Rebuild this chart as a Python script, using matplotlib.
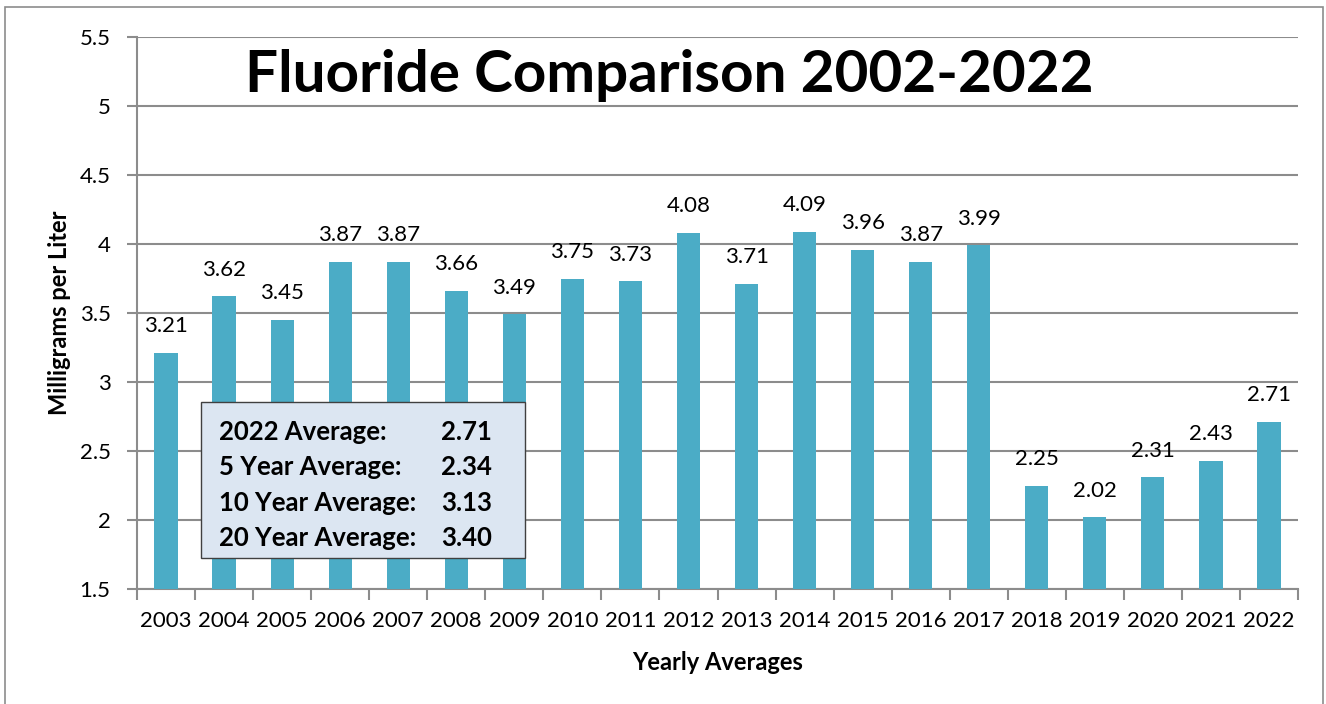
import matplotlib
matplotlib.use("Agg")
import matplotlib.pyplot as plt
from matplotlib.patches import Rectangle

years = ["2003", "2004", "2005", "2006", "2007", "2008", "2009", "2010", "2011", "2012",
         "2013", "2014", "2015", "2016", "2017", "2018", "2019", "2020", "2021", "2022"]
values = [3.21, 3.62, 3.45, 3.87, 3.87, 3.66, 3.49, 3.75, 3.73, 4.08,
          3.71, 4.09, 3.96, 3.87, 3.99, 2.25, 2.02, 2.31, 2.43, 2.71]
box_labels = ["2022 Average:", "5 Year Average:", "10 Year Average:", "20 Year Average:"]
box_values = ["2.71", "2.34", "3.13", "3.40"]
yticks = [1.5, 2, 2.5, 3, 3.5, 4, 4.5, 5, 5.5]
ytick_labels = ["1.5", "2", "2.5", "3", "3.5", "4", "4.5", "5", "5.5"]

plt.rcParams['font.family'] = ['Lato', 'DejaVu Sans']
W, H = 1326, 704
fig = plt.figure(figsize=(W / 100, H / 100), dpi=100)
ax = fig.add_axes([137 / W, 1 - 589 / H, (1298 - 137) / W, (589 - 37) / H])

# outer frame
fig.patches.append(Rectangle((5 / W, -0.05), (1323 - 5) / W, 1.05 - 7 / H,
                             transform=fig.transFigure, fill=False,
                             edgecolor="#8c8c8c", linewidth=1.2))

x = list(range(len(years)))
ax.bar(x, values, width=0.4, color="#4BACC6", zorder=3)
ax.set_xlim(-0.5, len(years) - 0.5)
ax.set_ylim(1.5, 5.5)
ax.set_yticks(yticks)
ax.set_yticklabels(ytick_labels, fontsize=16)
ax.set_xticks(x)
ax.set_xticklabels(years, fontsize=16)
ax.tick_params(axis="x", length=0, pad=16)
ax.tick_params(axis="y", length=7, color="#8c8c8c", width=1.5, pad=12)
ax.set_xticks([i - 0.5 for i in range(len(years) + 1)], minor=True)
ax.tick_params(axis="x", which="minor", length=8, color="#8c8c8c", width=1.5, direction="out")
ax.grid(axis="y", color="#8c8c8c", linewidth=1.5, zorder=0)
for s in ["top", "right"]:
    ax.spines[s].set_visible(False)
for s in ["left", "bottom"]:
    ax.spines[s].set_color("#8c8c8c")
    ax.spines[s].set_linewidth(1.5)

for xi, v in zip(x, values):
    ax.annotate(f"{v:.2f}", (xi, v), xytext=(0, 12), textcoords="offset points",
                ha="center", va="bottom", fontsize=16)

ax.set_ylabel("Milligrams per Liter", fontsize=17, fontweight="bold")
ax.yaxis.set_label_coords((71 - 137) / 1161, 0.5)
ax.set_xlabel("Yearly Averages", fontsize=17, fontweight="bold")
ax.xaxis.set_label_coords(0.5, (589 - 651) / 552)

fig.text(669 / W, 1 - 76 / H, "Fluoride Comparison 2002-2022", ha="center", va="center",
         fontsize=42, fontweight="bold")

# text box
bx0, by0, bx1, by1 = 201, 402, 525, 558
fig.patches.append(Rectangle((bx0 / W, 1 - by1 / H), (bx1 - bx0) / W, (by1 - by0) / H,
                             transform=fig.transFigure, facecolor="#DCE6F2",
                             edgecolor="#404040", linewidth=1.0, zorder=5))
ys = [432, 467, 503, 538]
for lab, val, yy in zip(box_labels, box_values, ys):
    fig.text(219 / W, 1 - yy / H, lab, ha="left", va="center", fontsize=18.5,
             fontweight="bold", zorder=6)
    fig.text(492 / W, 1 - yy / H, val, ha="right", va="center", fontsize=18.5,
             fontweight="bold", zorder=6)

fig.savefig("out.png", dpi=100)
